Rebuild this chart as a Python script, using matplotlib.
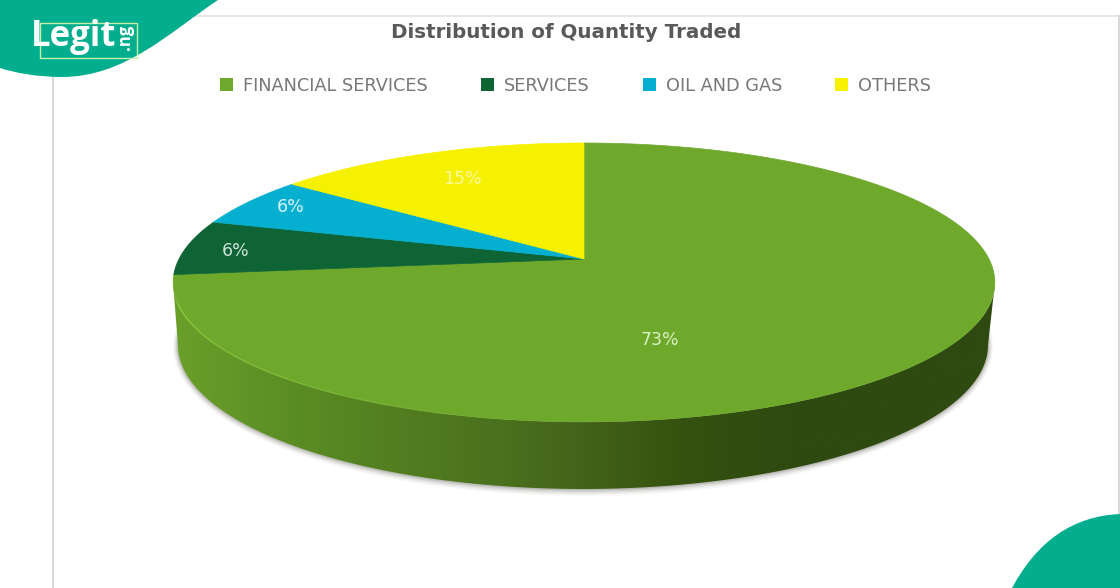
import numpy as np
import matplotlib
matplotlib.use('Agg')
import matplotlib.pyplot as plt
from matplotlib.colors import LinearSegmentedColormap
from matplotlib.patches import PathPatch, Patch, Polygon, Rectangle
from matplotlib.path import Path

plt.rcParams['font.family'] = ['DejaVu Sans']

title = 'Distribution of Quantity Traded'
sectors = ['FINANCIAL SERVICES', 'SERVICES', 'OIL AND GAS', 'OTHERS']
# shares, they round to the printed labels
shares = [73.2, 6.4, 5.8, 14.6]
colors = ['#6fa92c', '#0f6436', '#04afcf', '#f5f100']
label_colors = ['#d9f0c0', '#cfe3d6', '#d8f3f8', '#fbf8a0']
label_pos = [(660, 340), (236, 251), (291, 207), (462, 179)]

side_stops = ['#6a9f2a', '#5a8c24', '#527d20', '#4a711e', '#426118',
              '#35520f', '#2f4a10', '#2e4a10']
side_x = [0, 0.15, 0.28, 0.40, 0.51, 0.62, 0.75, 1]

# pie geometry in image pixels
cx, cy = 584, 259
rx = 405
pa, pc = 135.5, 0.168


def project(u, v):
    # tilted disc: unit circle to the screen with perspective
    w = 1 + pc * v
    return cx + rx * u / w, cy - pa * v / w


def slice_points(start, stop):
    t = np.radians(np.linspace(start, stop, 200))
    x, y = project(np.sin(t), np.cos(t))
    return np.vstack([[cx, cy], np.column_stack([x, y])])


def rim(xc, yc, a, b, t0, t1):
    t = np.radians(np.linspace(t0, t1, 200))
    return np.column_stack([xc + a * np.cos(t), yc + b * np.sin(t)])


fig = plt.figure(figsize=(11.2, 5.88), dpi=100)
ax = fig.add_axes([0, 0, 1, 1])
ax.set_xlim(0, 1120)
ax.set_ylim(588, 0)
ax.axis('off')

# frame of the pasted chart
ax.plot([53, 53], [70, 588], color='#cfcfcf', lw=1.1)
ax.plot([190, 1120], [16, 16], color='#e0e0e0', lw=1.1)
ax.plot([1119, 1119], [16, 588], color='#d8d8d8', lw=1.5)

# side wall: lower half of the top rim joined to the bottom rim
top_edge = rim(584, 282.5, 411, 139.5, 0, 180)
low_edge = rim(583, 345, 405, 144, 0, 180)
wall = np.vstack([top_edge, low_edge[::-1]])

# soft shadow under the wall
for grow, alpha in zip([5, 4, 3, 2, 1], [0.03, 0.05, 0.07, 0.1, 0.14]):
    ax.add_patch(Polygon(rim(583, 345 + grow * 0.4, 405 + grow, 144 + grow, -8, 188),
                         closed=True, fc='#3c3c30', ec='none', alpha=alpha))

cmap = LinearSegmentedColormap.from_list('side', list(zip(side_x, side_stops)))
im = ax.imshow(np.linspace(0, 1, 400)[None, :], cmap=cmap, aspect='auto',
               extent=(173, 995, 500, 250), zorder=2)
wall_patch = Polygon(wall, closed=True, transform=ax.transData, fc='none', ec='none')
ax.add_patch(wall_patch)
im.set_clip_path(wall_patch)
ax.set_xlim(0, 1120)
ax.set_ylim(588, 0)

# top face
start = 0
for share, color in zip(shares, colors):
    stop = start + share * 3.6
    ax.add_patch(Polygon(slice_points(start, stop), closed=True, fc=color,
                         ec=color, lw=0.5, zorder=3))
    start = stop

# lighter edge where the top meets the wall on the left, fading to the right
fade = np.linspace(0.1, 1, 8)
edges = np.linspace(100, 172, 9)
for a0, a1, alpha in zip(edges[:-1], edges[1:], fade):
    ax.plot(*rim(584, 282.5, 411, 139.5, a0, a1).T, color='#86c43c', lw=1.1,
            alpha=alpha, zorder=4, solid_capstyle='butt')

for share, pos, col in zip(shares, label_pos, label_colors):
    ax.text(pos[0], pos[1], '%.0f%%' % share, color=col, fontsize=12.5,
            ha='center', va='center', zorder=5)

ax.text(566, 32, title, color='#595959', fontsize=14.3, fontweight='bold',
        ha='center', va='center')

handles = [Patch(fc=c, ec='none', label=s) for c, s in zip(colors, sectors)]
ax.legend(handles=handles, ncol=4, frameon=False, loc='center',
          bbox_to_anchor=(575.5, 86), bbox_transform=ax.transData,
          fontsize=12.8, labelcolor='#787878', handlelength=0.73, handleheight=0.73,
          handletextpad=0.56, columnspacing=3.0, borderpad=0, borderaxespad=0)

# site badges
teal = '#03ae8e'
top_blob = Path([(0, 0), (218, 0), (170, 32), (125, 77), (62, 77), (38, 77), (15, 73), (0, 68), (0, 0)],
                [Path.MOVETO, Path.LINETO, Path.CURVE4, Path.CURVE4, Path.CURVE4,
                 Path.CURVE4, Path.CURVE4, Path.CURVE4, Path.CLOSEPOLY])
ax.add_patch(PathPatch(top_blob, fc=teal, ec='none', zorder=6))
low_blob = Path([(1012, 588), (1050, 517), (1120, 514), (1120, 588), (1012, 588)],
                [Path.MOVETO, Path.CURVE3, Path.CURVE3, Path.LINETO, Path.CLOSEPOLY])
ax.add_patch(PathPatch(low_blob, fc=teal, ec='none', zorder=6))

ax.add_patch(Rectangle((40, 23), 97, 35, fc='none', ec='#c4f0a8', lw=1, zorder=7))
ax.text(31, 37, 'Legit', color='white', fontsize=25, fontweight='bold', family='Open Sans',
        ha='left', va='center', zorder=8)
ax.text(125, 37, '.ng', color='white', fontsize=12, fontweight='bold', rotation=90,
        family='Open Sans', ha='center', va='center', zorder=8)

fig.savefig('out.png', dpi=100)
